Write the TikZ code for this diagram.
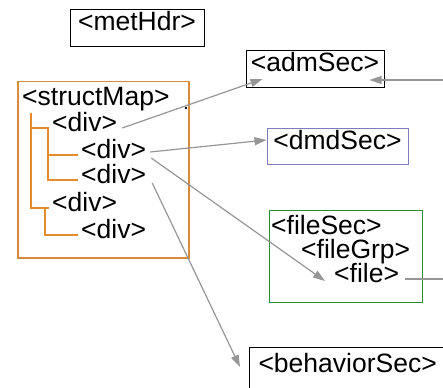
\documentclass[tikz,border=0pt]{standalone}
\usepackage{fontspec}
\setmainfont{Liberation Sans}
\usetikzlibrary{arrows.meta}
\definecolor{smorange}{RGB}{228,140,45}
\definecolor{smbox}{RGB}{215,140,60}
\definecolor{dmdblue}{RGB}{125,125,190}
\definecolor{filegreen}{RGB}{40,140,60}
\definecolor{arrgray}{RGB}{150,150,150}
\begin{document}
\begin{tikzpicture}[x=1pt,y=-1pt,
  font=\fontsize{26.5}{28}\selectfont,
  lbl/.style={inner xsep=3pt, inner ysep=0pt, anchor=west, text height=0.72em, text depth=0.03em},
  secbox/.style={draw=black, line width=1pt, inner sep=0pt, text height=0.72em, text depth=0.2em},
  tree/.style={draw=smorange, line width=1.2pt},
  arr/.style={draw=arrgray, line width=1.2pt, -{Triangle[length=12pt,width=8pt]}},
  plain/.style={draw=arrgray, line width=1.2pt}]
\useasboundingbox (0,0) rectangle (443,387);
\clip (0,0) rectangle (443,387);
% metHdr
\node[secbox, minimum width=134pt, minimum height=37pt] (metHdr) at (137,28) {<metHdr>};
% structMap
\node[draw=smbox, line width=1.5pt, minimum width=171pt, minimum height=176pt, anchor=north west, inner sep=0pt] (smBox) at (17,81) {};
\node[lbl] (structMap) at (19,102) {<structMap>};
\node[lbl] (div1) at (49,128) {<div>};
\node[lbl] (div2) at (78,155) {<div>};
\node[lbl] (div3) at (78,180) {<div>};
\node[lbl] (div4) at (49,208) {<div>};
\node[lbl] (div5) at (78,235) {<div>};
\fill (186,108) circle (1.3pt);
\coordinate (r0) at (31,113);
\coordinate (b1) at (48,128);
\coordinate (b2) at (45,208);
\draw[tree] (r0) |- (div1.west);
\draw[tree] (r0) |- (div4.west);
\draw[tree] (b1) |- (div2.west);
\draw[tree] (b1) |- (div3.west);
\draw[tree] (b2) |- (div5.west);
% admSec
\node[secbox, minimum width=138pt, minimum height=37pt] (admSec) at (315,69) {<admSec>};
% dmdSec
\node[secbox, draw=dmdblue, minimum width=141pt, minimum height=36pt] (dmdSec) at (337.5,147) {<dmdSec>};
% fileSec
\node[draw=filegreen, line width=1.2pt, minimum width=153pt, minimum height=92pt, anchor=north west, inner sep=0pt] (fsBox) at (269,210) {};
\node[lbl] (fileSec) at (268,231) {<fileSec>};
\node[lbl] (fileGrp) at (298,255) {<fileGrp>};
\node[lbl] (file) at (331,279) {<file>};
% behaviorSec
\node[secbox, anchor=west, minimum height=46pt, inner xsep=9pt] (behaviorSec) at (249,370) {<behaviorSec>};
% connectors
\coordinate (eR1) at (446,80);
\coordinate (eR2) at (446,279);
\draw[arr] ([xshift=2pt]div1.east) -- ([shift={(17,10)}]admSec.west);
\draw[arr] (eR1) -- ([shift={(-15,11)}]admSec.east);
\draw[arr] ([shift={(1,-3)}]div2.east) -- ([yshift=7]dmdSec.west);
\draw[arr] ([shift={(2,3)}]div2.east) -- ([shift={(-6,2)}]file.west);
\draw[arr] ([shift={(3,3)}]div3.east) -- ([shift={(-9,-3)}]behaviorSec.west);
\draw[plain] ([xshift=3pt]file.east) -- (eR2);
\end{tikzpicture}
\end{document}
